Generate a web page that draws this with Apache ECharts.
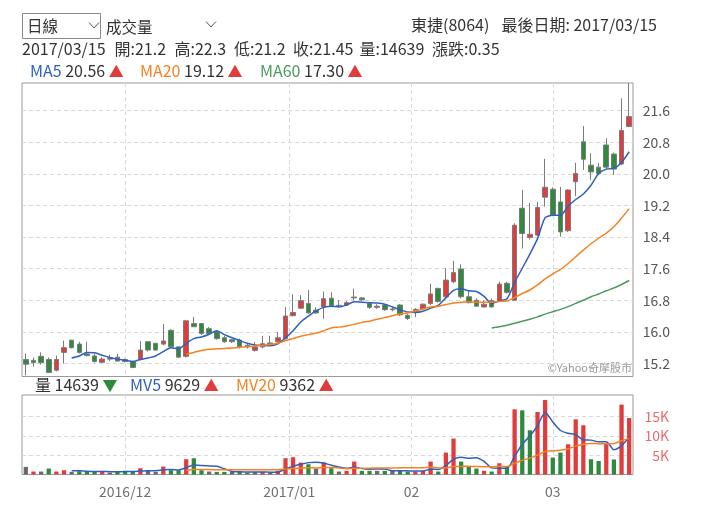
<!DOCTYPE html>
<html><head><meta charset="utf-8">
<script src="https://cdn.jsdelivr.net/npm/echarts@6/dist/echarts.min.js"></script>
<style>html,body{margin:0;padding:0;background:#fff}#c{width:720px;height:509px}</style>
</head><body><div id="c"></div>
<script>
// ---- data ----
const stockName = '東捷(8064)';
const dates = [].concat(
  '14 15 16 17 18 21 22 23 24 25 28 29 30'.split(' ').map(d => '2016/11/' + d),
  '01 02 05 06 07 08 09 12 13 14 15 16 19 20 21 22 23 26 27 28 29 30'.split(' ').map(d => '2016/12/' + d),
  '03 04 05 06 09 10 11 12 13 16 17 18 19 20 23 24'.split(' ').map(d => '2017/01/' + d),
  '02 03 06 07 08 09 10 13 14 15 16 17 18 20 21 22 23 24'.split(' ').map(d => '2017/02/' + d),
  '01 02 03 06 07 08 09 10 13 14 15'.split(' ').map(d => '2017/03/' + d)
);
const opens = [15.30,15.28,15.38,15.30,15.03,15.48,15.79,15.69,15.44,15.39,
  15.23,15.34,15.36,15.30,15.25,15.30,15.75,15.71,15.69,16.04,
  15.62,15.38,16.21,16.21,16.08,16.00,15.85,15.80,15.79,15.66,
  15.53,15.62,15.72,15.75,15.83,16.41,16.60,16.72,16.55,16.63,
  16.85,16.67,16.68,16.86,16.86,16.72,16.65,16.68,16.58,16.68,
  16.42,16.50,16.58,16.72,17.10,16.89,17.27,17.59,16.89,16.80,
  16.63,16.79,16.79,17.23,16.80,19.13,18.39,18.45,19.41,19.61,
  19.29,18.56,19.80,20.81,20.22,20.17,20.73,20.50,20.25,21.2];
const closes = [15.18,15.22,15.22,14.97,15.30,15.60,15.60,15.48,15.40,15.25,
  15.31,15.31,15.26,15.25,15.10,15.54,15.54,15.54,15.77,15.62,
  15.36,16.28,16.13,15.96,15.96,15.83,15.75,15.75,15.62,15.62,
  15.62,15.70,15.70,15.85,16.40,16.49,16.79,16.48,16.48,16.84,
  16.67,16.67,16.74,16.88,16.81,16.62,16.62,16.56,16.56,16.43,
  16.34,16.57,16.70,16.96,16.77,17.31,17.50,16.89,16.74,16.65,
  16.70,16.63,17.21,17.00,18.70,18.49,18.47,19.15,19.66,18.96,
  18.53,19.59,20.01,20.37,20.05,20.01,20.17,20.12,21.10,21.45];
const lows = [14.90,15.12,15.17,14.96,15.00,15.20,15.58,15.45,15.38,15.22,
  15.21,15.26,15.25,15.22,15.08,15.28,15.50,15.52,15.66,15.60,
  15.34,15.35,16.12,15.92,15.95,15.80,15.72,15.72,15.58,15.58,
  15.50,15.58,15.65,15.72,15.80,16.39,16.58,16.46,16.45,16.33,
  16.65,16.63,16.65,16.80,16.78,16.58,16.58,16.53,16.52,16.40,
  16.30,16.37,16.55,16.68,16.74,16.85,17.23,16.85,16.72,16.63,
  16.62,16.62,16.76,16.97,16.79,18.11,18.34,18.43,19.17,18.93,
  18.41,18.53,19.44,20.10,19.84,19.97,20.12,19.97,20.22,21.2];
const highs = [15.45,15.35,15.48,15.35,15.40,15.78,15.80,15.75,15.75,15.45,
  15.36,15.42,15.44,15.33,15.27,15.77,15.77,15.72,16.20,16.06,
  15.63,16.30,16.38,16.22,16.12,16.04,15.90,15.82,15.83,15.70,
  15.74,15.90,15.90,16.00,16.63,16.95,16.93,17.06,16.62,17.02,
  17.00,16.80,16.78,17.09,16.88,16.75,16.70,16.70,16.62,16.70,
  16.45,16.60,16.72,17.22,17.12,17.61,17.80,17.71,17.06,16.85,
  16.80,16.85,17.27,17.27,18.75,19.59,19.27,19.29,20.38,19.66,
  19.67,19.61,20.28,21.21,20.52,20.28,20.90,20.54,21.91,22.3];
const volumes = [1970,770,770,1540,770,1110,680,850,680,680,
  940,510,680,940,770,1630,940,680,2060,1110,
  1110,3960,4220,1110,770,680,680,680,680,510,
  680,680,510,940,4220,4470,3090,2660,1540,3090,
  1630,770,940,3350,940,940,940,940,1110,940,
  770,770,940,3350,770,5680,9300,3350,1970,1540,
  940,770,2920,1970,16890,16630,11460,16200,19300,4390,
  5680,7840,14300,12750,3960,3500,8000,3900,18100,14639];
const ma5 = [null,null,null,null,null,null,
  15.34,15.39,15.48,15.47,15.41,15.35,15.31,15.28,15.25,15.30,
  15.34,15.39,15.50,15.60,15.57,15.71,15.83,15.87,15.94,16.03,
  15.93,15.85,15.78,15.71,15.67,15.66,15.65,15.70,15.85,16.03,
  16.25,16.40,16.53,16.62,16.65,16.63,16.68,16.76,16.75,16.74,
  16.73,16.70,16.63,16.56,16.50,16.49,16.52,16.60,16.67,16.86,
  17.05,17.09,17.04,17.02,16.90,16.72,16.79,16.84,17.25,17.61,
  17.97,18.36,18.89,18.95,18.95,19.18,19.35,19.49,19.71,20.01,
  20.12,20.14,20.29,20.56];
const ma20 = [null,null,null,null,null,null,null,null,null,null,
  null,null,null,null,null,null,null,null,null,null,null,
  15.43,15.48,15.53,15.56,15.57,15.58,15.59,15.61,15.62,15.64,
  15.66,15.68,15.71,15.78,15.83,15.89,15.93,15.97,16.03,16.10,
  16.12,16.15,16.19,16.24,16.27,16.32,16.36,16.41,16.45,16.48,
  16.53,16.58,16.63,16.65,16.69,16.73,16.75,16.76,16.75,16.75,
  16.75,16.77,16.78,16.87,16.97,17.06,17.19,17.34,17.47,17.58,
  17.73,17.90,18.07,18.23,18.37,18.50,18.66,18.88,19.12];
const ma60 = [null,null,null,null,null,null,null,null,null,null,
  null,null,null,null,null,null,null,null,null,null,
  null,null,null,null,null,null,null,null,null,null,
  null,null,null,null,null,null,null,null,null,null,
  null,null,null,null,null,null,null,null,null,null,
  null,null,null,null,null,null,null,null,null,null,null,
  16.10,16.13,16.17,16.22,16.27,16.32,16.38,16.45,16.51,16.57,
  16.64,16.72,16.80,16.89,16.96,17.04,17.11,17.20,17.30];
const mv5 = [null,null,null,null,null,null,
  974,990,818,800,766,732,698,750,768,906,
  992,992,1216,1284,1180,1784,2492,2302,2234,2148,
  1492,784,698,646,646,646,612,664,1406,2164,
  2646,3076,3196,2970,2402,1938,1594,1956,1526,1388,
  1422,1422,974,974,940,906,906,1354,1320,2302,
  4008,4490,4214,4368,3420,1714,1628,1628,4698,7836,
  9974,12630,16096,13596,11406,10682,10302,8992,8906,8470,
  8502,6422,7492,9629];
const mv20 = [null,null,null,null,null,null,null,null,null,null,
  null,null,null,null,null,null,null,null,null,null,null,
  1121,1293,1272,1272,1250,1250,1242,1242,1233,1220,
  1229,1220,1220,1393,1535,1642,1741,1715,1814,1840,
  1681,1517,1629,1637,1650,1663,1676,1698,1719,1724,
  1728,1750,1870,1698,1758,2069,2103,2125,2047,2013,
  2013,2112,2043,2900,3700,4250,5020,5950,6120,6300,
  6650,7350,7850,8050,7980,7950,8000,8750,9362];
const priceTicks = [15.2,16.0,16.8,17.6,18.4,19.2,20.0,20.8,21.6];
const volumeTicks = [5000,10000,15000];

// ---- styling / derived ----
const FONT = "'Noto Sans CJK TC','Noto Sans',sans-serif";
const UP = '#e03c3c', DOWN = '#2e8b3e', FLAT = '#6a6a6a';
const C_MA5 = '#2f5fc0', C_MA20 = '#f5821f', C_MA60 = '#4c9a5e';
const N = dates.length, L = N - 1;

// month marks from the trading dates
const marks = [];
let lastYear = null;
dates.forEach((d, i) => {
  if (i === 0) return;
  const [y, m, dd] = d.split('/');
  const pm = dates[i - 1].split('/')[1];
  if (m !== pm) {
    const label = (y !== lastYear) ? (y + '/' + m) : m;
    lastYear = y;
    marks.push({ pos: dd === '01' ? i : i - 0.5, label });
  }
});
const markPos = marks.map(m => m.pos);

const candleData = dates.map((d, i) => {
  const it = { value: [opens[i], closes[i], lows[i], highs[i]] };
  if (opens[i] === closes[i]) it.itemStyle = { color: '#888', color0: '#888', borderColor: '#777', borderColor0: '#777' };
  return it;
});
const volData = volumes.map((v, i) => {
  let c = FLAT;
  if (i > 0) c = closes[i] > closes[i - 1] ? UP : (closes[i] < closes[i - 1] ? DOWN : FLAT);
  return { value: v, itemStyle: { color: c } };
});

const dash = { type: [4, 3], color: '#d9d9d9', width: 1 };
const chart = echarts.init(document.getElementById('c'), null, { renderer: 'canvas' });

const fmt2 = v => v.toFixed(2);
const chg = (closes[L] - closes[L - 1]).toFixed(2);

function txt(x, y, text, extra) {
  return Object.assign({ type: 'text', x, y, silent: true,
    style: Object.assign({ text, font: '16px ' + FONT, fill: '#333', verticalAlign: 'middle' }, extra || {}) });
}
function richGroup(x, y, name, color, val, up) {
  return txt(x, y, '{a|' + name + '} {b|' + val + '} {' + (up ? 'u' : 'd') + '|' + (up ? '▲' : '▼') + '}', {
    rich: {
      a: { fill: color, font: '16px ' + FONT },
      b: { fill: '#333', font: '16px ' + FONT },
      u: { fill: UP, font: '15px ' + FONT },
      d: { fill: DOWN, font: '15px ' + FONT }
    }
  });
}

// header line 2 pieces
const infoParts = [
  dates[L], '開:' + opens[L], '高:' + highs[L], '低:' + lows[L], '收:' + closes[L],
  '量:' + volumes[L], '漲跌:' + chg
];
const infoX = [22, 114.5, 174.5, 234, 293, 359.5, 432];

const option = {
  animation: false,
  backgroundColor: '#fff',
  textStyle: { fontFamily: FONT },
  grid: [
    { left: 22, right: 87, top: 83, height: 293.5, show: true, borderColor: '#9a9a9a', borderWidth: 1, outerBoundsMode: 'none' },
    { left: 22, right: 87, top: 395, height: 79.5, show: true, borderColor: '#9a9a9a', borderWidth: 1, outerBoundsMode: 'none' }
  ],
  xAxis: [
    { type: 'category', gridIndex: 0, data: dates, position: 'bottom', boundaryGap: true,
      axisLine: { show: false }, axisTick: { show: false }, axisLabel: { show: false }, splitLine: { show: false } },
    { type: 'value', gridIndex: 0, min: -0.5, max: N - 0.5, position: 'top',
      axisLine: { show: false }, axisTick: { show: false, customValues: markPos }, axisLabel: { show: false },
      splitLine: { show: true, lineStyle: dash } },
    { type: 'category', gridIndex: 1, data: dates, position: 'top', boundaryGap: true,
      axisLine: { show: false }, axisTick: { show: false }, axisLabel: { show: false }, splitLine: { show: false } },
    { type: 'value', gridIndex: 1, min: -0.5, max: N - 0.5, position: 'bottom',
      axisLine: { show: false }, axisTick: { show: false, customValues: markPos },
      axisLabel: { customValues: markPos, color: '#707070', fontSize: 14, fontFamily: FONT, margin: 10,
        formatter: v => { const m = marks.find(k => Math.abs(k.pos - v) < 1e-6); return m ? m.label : ''; } },
      splitLine: { show: true, lineStyle: dash } }
  ],
  yAxis: [
    { type: 'value', gridIndex: 0, position: 'right', min: 14.87, max: 22.3, scale: true,
      axisLine: { show: false }, axisTick: { show: false, customValues: priceTicks },
      axisLabel: { customValues: priceTicks, formatter: v => v.toFixed(1), color: '#555', fontSize: 14, fontFamily: FONT, align: 'right', margin: 37 },
      splitLine: { show: true, lineStyle: dash } },
    { type: 'value', gridIndex: 1, position: 'right', min: 0, max: 20600,
      axisLine: { show: false }, axisTick: { show: false, customValues: volumeTicks },
      axisLabel: { customValues: volumeTicks, formatter: v => (v / 1000) + 'K', color: '#ec6b6b', fontSize: 14, fontFamily: FONT, align: 'right', margin: 36 },
      splitLine: { show: true, lineStyle: dash } }
  ],
  series: [
    { type: 'candlestick', xAxisIndex: 0, yAxisIndex: 0, data: candleData, barWidth: '66%',
      itemStyle: { color: UP, color0: DOWN, borderColor: '#7b7b7b', borderColor0: '#7b7b7b', borderWidth: 1 }, z: 3 },
    { type: 'line', name: 'MA5', xAxisIndex: 0, yAxisIndex: 0, data: ma5, showSymbol: false, smooth: 0.25,
      lineStyle: { color: C_MA5, width: 1.5 }, z: 4 },
    { type: 'line', name: 'MA20', xAxisIndex: 0, yAxisIndex: 0, data: ma20, showSymbol: false, smooth: 0.25,
      lineStyle: { color: C_MA20, width: 1.5 }, z: 4 },
    { type: 'line', name: 'MA60', xAxisIndex: 0, yAxisIndex: 0, data: ma60, showSymbol: false, smooth: 0.25,
      lineStyle: { color: C_MA60, width: 1.5 }, z: 4 },
    { type: 'bar', xAxisIndex: 2, yAxisIndex: 1, data: volData, barWidth: '56%', z: 3 },
    { type: 'line', name: 'MV5', xAxisIndex: 2, yAxisIndex: 1, data: mv5, showSymbol: false, smooth: 0.25,
      lineStyle: { color: C_MA5, width: 1.5 }, z: 4 },
    { type: 'line', name: 'MV20', xAxisIndex: 2, yAxisIndex: 1, data: mv20, showSymbol: false, smooth: 0.25,
      lineStyle: { color: C_MA20, width: 1.5 }, z: 4 }
  ],
  graphic: [
    { type: 'rect', silent: true, shape: { x: 22.5, y: 13.5, width: 78, height: 25 }, style: { fill: '#fff', stroke: '#8a8a8a', lineWidth: 1 } },
    txt(27, 26, '日線', { font: '15.5px ' + FONT }),
    { type: 'polyline', silent: true, shape: { points: [[89, 22.5], [94, 28], [99, 22.5]] }, style: { stroke: '#555', lineWidth: 1, fill: null } },
    txt(106, 27, '成交量', { font: '15.5px ' + FONT }),
    { type: 'polyline', silent: true, shape: { points: [[206, 21.5], [211, 27], [216, 21.5]] }, style: { stroke: '#555', lineWidth: 1, fill: null } },
    txt(411, 25, stockName),
    txt(657, 25, '最後日期: ' + dates[L], { align: 'right' }),
    ...infoParts.map((t, k) => txt(infoX[k], 49, t)),
    richGroup(30, 71, 'MA5', C_MA5, fmt2(ma5[L]), ma5[L] >= ma5[L - 1]),
    richGroup(140, 71, 'MA20', C_MA20, fmt2(ma20[L]), ma20[L] >= ma20[L - 1]),
    richGroup(260, 71, 'MA60', C_MA60, fmt2(ma60[L]), ma60[L] >= ma60[L - 1]),
    richGroup(35, 385, '量', '#333', String(volumes[L]), volumes[L] >= volumes[L - 1]),
    richGroup(130, 385, 'MV5', C_MA5, String(mv5[L]), mv5[L] >= mv5[L - 1]),
    richGroup(236, 385, 'MV20', C_MA20, String(mv20[L]), mv20[L] >= mv20[L - 1]),
    txt(632, 368, '©Yahoo奇摩股市', { align: 'right', font: '11px ' + FONT, fill: '#999' })
  ]
};
chart.setOption(option);
</script>
</body></html>
